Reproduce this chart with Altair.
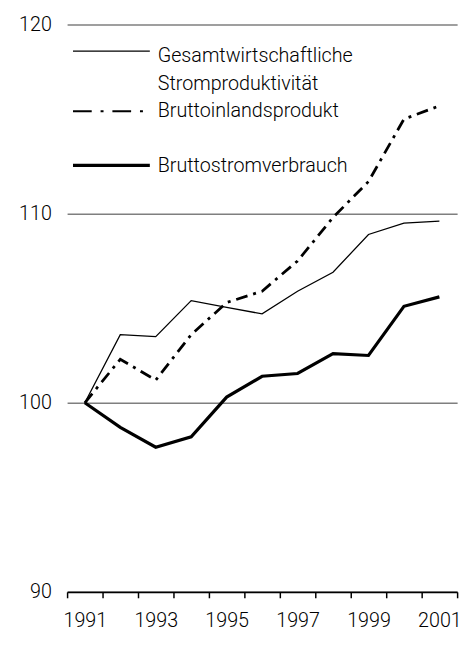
import altair as alt
import pandas as pd

years = list(range(1991, 2002))
produktivitaet = [100, 103.6, 103.5, 105.4, 105.05, 104.7, 105.9, 106.9, 108.9, 109.5, 109.6]
bip = [100, 102.3, 101.2, 103.6, 105.3, 105.9, 107.5, 109.8, 111.7, 115.0, 115.7]
verbrauch = [100, 98.7, 97.65, 98.2, 100.3, 101.4, 101.55, 102.6, 102.5, 105.1, 105.6]
y_ticks = [90, 100, 110, 120]
legend_labels = ["Gesamtwirtschaftliche", "Stromproduktivität", "Bruttoinlandsprodukt", "Bruttostromverbrauch"]

df = pd.DataFrame({"Jahr": years, "prod": produktivitaet, "bip": bip, "verb": verbrauch})

FONT = "Roboto"
FS = 20
W, H = 396, 576

x_tick_vals = [years[0] - 0.5 + i for i in range(len(years) + 1)]

xenc = alt.X(
    "Jahr:Q",
    scale=alt.Scale(domain=[years[0] - 0.5, years[-1] + 0.5], nice=False, zero=False),
    axis=alt.Axis(
        values=x_tick_vals,
        title=None,
        grid=False,
        domainColor="black",
        domainWidth=2,
        tickColor="black",
        tickWidth=1.5,
        tickSize=6,
        labelExpr="((datum.value + 0.5) % 2 == 1) && datum.value < 2001 ? format(datum.value + 0.5, 'd') : ''",
        labelOffset=18,
        labelPadding=13,
        labelFlush=False,
        labelOverlap=False,
        labelBound=False,
        labelFont=FONT,
        labelFontSize=FS,
        labelFontWeight=300,
        labelColor="black",
    ),
)

yaxis = alt.Axis(
    values=y_ticks,
    title=None,
    domain=False,
    ticks=False,
    grid=True,
    gridColor="#7f7f7f",
    gridWidth=1.5,
    labelPadding=16,
    labelFont=FONT,
    labelFontSize=FS,
    labelFontWeight=300,
    labelColor="black",
)

def yenc(col):
    return alt.Y(
        f"{col}:Q",
        scale=alt.Scale(domain=[90, 120], nice=False, zero=False),
        axis=yaxis,
    )

base = alt.Chart(df)
l_prod = base.mark_line(color="black", strokeWidth=1.3).encode(x=xenc, y=yenc("prod"))
l_bip = base.mark_line(color="black", strokeWidth=2.8, strokeDash=[12, 6, 3, 6]).encode(x=xenc, y=yenc("bip"))
l_verb = base.mark_line(color="black", strokeWidth=3.2).encode(x=xenc, y=yenc("verb"))

one = alt.Data(values=[{}])

def leg_rule(y, width, dash=None):
    kw = dict(color="black", strokeWidth=width)
    if dash:
        kw["strokeDash"] = dash
    return alt.Chart(one).mark_rule(**kw).encode(
        x=alt.value(6), x2=alt.value(84), y=alt.value(y)
    )

def leg_text(y, label):
    return alt.Chart(one).mark_text(
        align="left", baseline="middle", font=FONT, fontSize=FS, fontWeight=300, color="black"
    ).encode(x=alt.value(92), y=alt.value(y), text=alt.value(label))

legend = [
    leg_rule(27, 1.3), leg_text(32, legend_labels[0]), leg_text(60, legend_labels[1]),
    leg_rule(88, 2, [19, 9, 3, 9]), leg_text(88, legend_labels[2]),
    leg_rule(143, 3.2), leg_text(144, legend_labels[3]),
]

chart = alt.layer(l_prod, l_bip, l_verb, *legend).properties(
    width=W, height=H, background="white",
    autosize=alt.AutoSizeParams(type="none"),
    padding={"left": 60, "top": 12, "right": 8, "bottom": 41},
).configure_view(stroke=None)

chart.save("out.html", embed_options={"renderer": "svg", "actions": False})
